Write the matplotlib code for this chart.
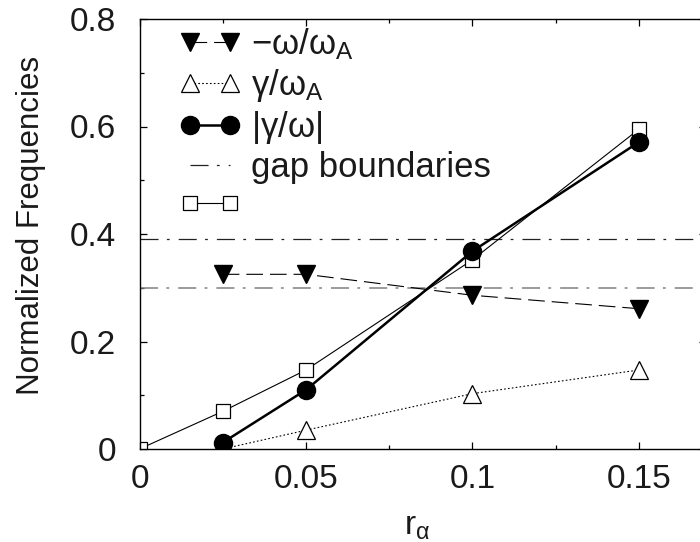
import matplotlib
matplotlib.use("Agg")
import matplotlib.pyplot as plt
from matplotlib.ticker import FixedLocator, MultipleLocator

plt.rcParams['font.family'] = ['Liberation Sans', 'DejaVu Sans']
plt.rcParams['mathtext.fontset'] = 'custom'
plt.rcParams['mathtext.rm'] = 'Liberation Sans'
plt.rcParams['mathtext.it'] = 'Liberation Sans:italic'
plt.rcParams['mathtext.sf'] = 'Liberation Sans'
plt.rcParams['lines.scale_dashes'] = False

# ---- data ----
r_alpha = [0.025, 0.05, 0.1, 0.15]
neg_omega = [0.325, 0.325, 0.286, 0.261]          # -omega/omega_A
gamma = [0.0, 0.035, 0.103, 0.147]                # gamma/omega_A
ratio = [0.012, 0.110, 0.368, 0.571]              # |gamma/omega|
sq_r = [0.0, 0.025, 0.05, 0.1, 0.15]
sq_vals = [0.0, 0.070, 0.147, 0.352, 0.595]
gap_bounds = [0.39, 0.30]

x_ticks = [0, 0.05, 0.1, 0.15]
x_ticklabels = ["0", "0.05", "0.1", "0.15"]
y_ticks = [0, 0.2, 0.4, 0.6, 0.8]
y_ticklabels = ["0", "0.2", "0.4", "0.6", "0.8"]

labels = [r'$\mathrm{-\omega/\omega_A}$', r'$\mathrm{\gamma/\omega_A}$',
          r'$\mathrm{|\gamma/\omega|}$', 'gap boundaries', ' ']

W, H = 700, 542
fig = plt.figure(figsize=(7, 5.42), dpi=100)
ax = fig.add_axes([139.5 / W, (H - 449) / H, 566 / W, 430 / H])
ax.set_xlim(0, 0.17)
ax.set_ylim(0, 0.8)

txtc = '#1a1a1a'

l_gap1 = ax.axhline(gap_bounds[0], color='#222222', lw=0.9,
                    dashes=(13, 6, 2, 6.5))
ax.axhline(gap_bounds[1], color='#808080', lw=1.1, dashes=(13, 6, 2, 6.5))

l_sq, = ax.plot(sq_r, sq_vals, color='black', lw=0.8, marker='s', ms=10,
                mfc='white', mec='black', mew=0.9)
l_om, = ax.plot(r_alpha, neg_omega, color='black', lw=0.8, dashes=(12, 5),
                marker='v', ms=13, mfc='black', mec='black')
l_ga, = ax.plot(r_alpha, gamma, color='black', lw=0.8, dashes=(1.2, 1.6),
                marker='^', ms=13, mfc='white', mec='black', mew=0.9)
l_ra, = ax.plot(r_alpha, ratio, color='black', lw=1.8, marker='o', ms=13,
                mfc='black', mec='black')

ax.xaxis.set_major_locator(FixedLocator(x_ticks))
ax.set_xticklabels(x_ticklabels)
ax.yaxis.set_major_locator(FixedLocator(y_ticks))
ax.set_yticklabels(y_ticklabels)
ax.xaxis.set_minor_locator(MultipleLocator(0.025))
ax.yaxis.set_minor_locator(MultipleLocator(0.1))
ax.tick_params(which='both', direction='in', top=True, right=True,
               width=0.9, colors='black', labelcolor=txtc, labelsize=24)
ax.tick_params(which='major', length=5)
ax.tick_params(which='minor', length=3)
ax.tick_params(axis='x', pad=11)
ax.tick_params(axis='y', pad=17)
for s in ax.spines.values():
    s.set_linewidth(1.0)

ax.set_ylabel('Normalized Frequencies', fontsize=22.5, color=txtc)
ax.yaxis.set_label_coords(-0.165, 0.52)
ax.set_xlabel(r'$\mathrm{r_\alpha}$', fontsize=24, color=txtc)
ax.xaxis.set_label_coords(0.49, -0.145)

leg = ax.legend([l_om, l_ga, l_ra, l_gap1, l_sq], labels, loc='upper left',
                bbox_to_anchor=(179.6 / W, (H - 26) / H),
                bbox_transform=fig.transFigure, frameon=False, fontsize=25,
                numpoints=2, handlelength=1.75, handletextpad=0.3,
                labelspacing=0.15, borderpad=0, borderaxespad=0)
for t in leg.get_texts():
    t.set_color(txtc)

fig.savefig('out.png', dpi=100)
